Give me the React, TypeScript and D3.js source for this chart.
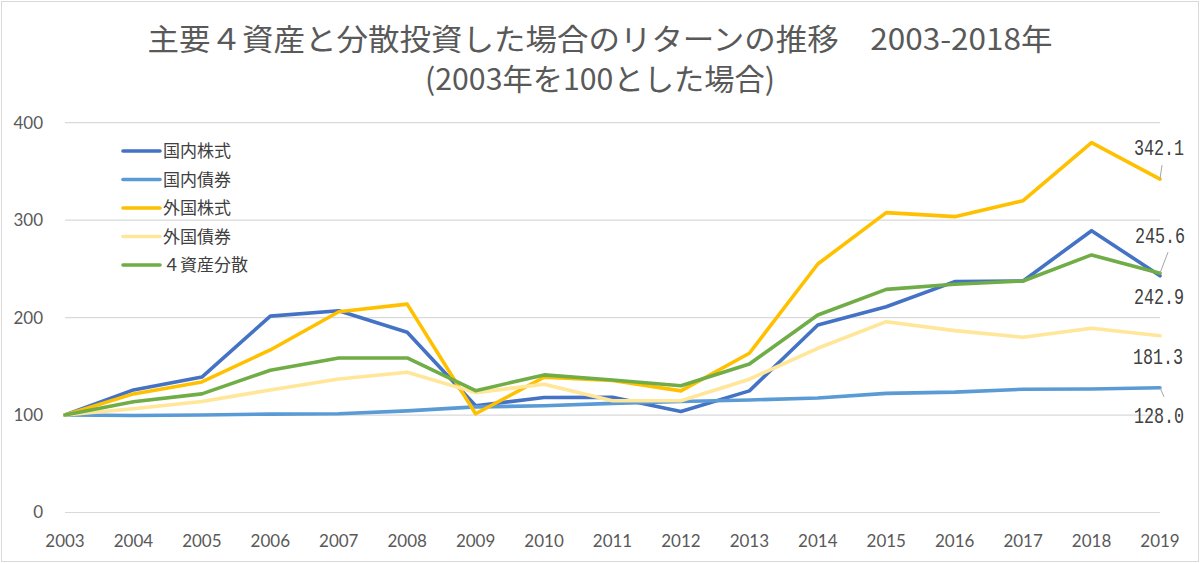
import React, { useEffect, useRef } from "react";
import * as d3 from "d3";

const years = [
  2003, 2004, 2005, 2006, 2007, 2008, 2009, 2010, 2011, 2012, 2013, 2014,
  2015, 2016, 2017, 2018, 2019,
];

const domesticStock = [
  100, 125.8, 139, 201.5, 207, 185, 109.5, 118, 118.3, 103.6, 124.8, 192.4,
  211.2, 236.9, 237.6, 289.2, 242.9,
];
const domesticBond = [
  100, 99.5, 100, 101, 101.3, 104.3, 108.4, 109.5, 112, 113.9, 115.5, 117.5,
  122.2, 123.5, 126.5, 126.7, 128.0,
];
const foreignStock = [
  100, 121.7, 134, 166.8, 206, 213.8, 101.3, 138.8, 135.4, 124.8, 163.4, 255,
  307.7, 303.6, 320, 379.6, 342.1,
];
const foreignBond = [
  100, 106.4, 113.9, 125.8, 137, 144, 123, 131.6, 114.6, 114.6, 136.8, 168.5,
  195.8, 186.6, 179.8, 189, 181.3,
];
const diversified = [
  100, 113.6, 121.7, 146, 158.6, 158.6, 125, 141.2, 136, 130, 152.4, 202.7,
  229, 234.2, 237.6, 264.3, 245.6,
];

const seriesNames = ["国内株式", "国内債券", "外国株式", "外国債券", "４資産分散"];
const seriesValues = [domesticStock, domesticBond, foreignStock, foreignBond, diversified];
const colors = ["#4472C4", "#5B9BD5", "#FFC000", "#FFE699", "#70AD47"];
const yTicks = [0, 100, 200, 300, 400];

const titleLine1 = "主要４資産と分散投資した場合のリターンの推移　2003-2018年";
const titleLine2 = "(2003年を100とした場合)";

// where the end label sits relative to the last point, and whether it has a leader line
const endLabels = [
  { dx: -1, dy: 28, leader: null },
  { dx: -1, dy: 35, leader: [4, 9] },
  { dx: -1, dy: -24, leader: [2, -14] },
  { dx: -2, dy: 28, leader: null },
  { dx: 0, dy: -30, leader: [8, -21] },
];

const W = 1200;
const H = 563;

const App = () => {
  const svgRef = useRef(null);

  useEffect(() => {
    const svg = d3.select(svgRef.current);
    svg.selectAll("*").remove();

    const x = d3.scaleLinear().domain([2003, 2019]).range([65, 1160]);
    const y = d3.scaleLinear().domain([0, 400]).range([512.5, 122.7]);

    svg
      .append("rect")
      .attr("x", 1.5)
      .attr("y", 1.5)
      .attr("width", W - 3)
      .attr("height", H - 3)
      .attr("fill", "#fff")
      .attr("stroke", "#D9D9D9");

    // title
    svg
      .append("text")
      .attr("x", 600)
      .attr("y", 50)
      .attr("text-anchor", "middle")
      .attr("font-family", "'Noto Sans CJK JP', sans-serif")
      .attr("font-size", 30)
      .attr("fill", "#595959")
      .attr("textLength", 905)
      .attr("lengthAdjust", "spacingAndGlyphs")
      .text(titleLine1);
    svg
      .append("text")
      .attr("x", 600)
      .attr("y", 90)
      .attr("text-anchor", "middle")
      .attr("font-family", "'Noto Sans CJK JP', sans-serif")
      .attr("font-size", 30)
      .attr("fill", "#595959")
      .attr("textLength", 350)
      .attr("lengthAdjust", "spacingAndGlyphs")
      .text(titleLine2);

    // grid + y labels
    const grid = svg.append("g");
    grid
      .selectAll("line")
      .data(yTicks)
      .enter()
      .append("line")
      .attr("x1", x(2003))
      .attr("x2", x(2019))
      .attr("y1", (d) => y(d))
      .attr("y2", (d) => y(d))
      .attr("stroke", "#D9D9D9")
      .attr("stroke-width", 1.2);
    grid
      .selectAll("text")
      .data(yTicks)
      .enter()
      .append("text")
      .attr("x", 43)
      .attr("y", (d) => y(d))
      .attr("dy", "0.35em")
      .attr("text-anchor", "end")
      .attr("font-family", "Lato, sans-serif")
      .attr("font-size", 17)
      .attr("fill", "#595959")
      .text((d) => d);

    // x labels
    svg
      .append("g")
      .selectAll("text")
      .data(years)
      .enter()
      .append("text")
      .attr("x", (d) => x(d))
      .attr("y", 547)
      .attr("text-anchor", "middle")
      .attr("font-family", "Lato, sans-serif")
      .attr("font-size", 17)
      .attr("fill", "#595959")
      .text((d) => d);

    const line = d3
      .line()
      .x((d, i) => x(years[i]))
      .y((d) => y(d));

    seriesValues.forEach((vals, i) => {
      svg
        .append("path")
        .datum(vals)
        .attr("fill", "none")
        .attr("stroke", colors[i])
        .attr("stroke-width", 3.6)
        .attr("stroke-linejoin", "round")
        .attr("stroke-linecap", "round")
        .attr("d", line);
    });

    // end labels: monospace digits squeezed horizontally like the original
    const fmt = d3.format(".1f");
    seriesValues.forEach((vals, i) => {
      const last = vals[vals.length - 1];
      const px = x(years[years.length - 1]);
      const py = y(last);
      const lab = endLabels[i];
      if (lab.leader) {
        svg
          .append("line")
          .attr("x1", px)
          .attr("y1", py)
          .attr("x2", px + lab.leader[0])
          .attr("y2", py + lab.leader[1])
          .attr("stroke", "#A6A6A6")
          .attr("stroke-width", 1);
      }
      svg
        .append("text")
        .attr("transform", `translate(${px + lab.dx}, ${py + lab.dy}) scale(0.76, 1)`)
        .attr("text-anchor", "middle")
        .attr("font-family", "'Liberation Mono', monospace")
        .attr("font-size", 22)
        .attr("fill", "#404040")
        .text(fmt(last));
    });

    // legend
    const legend = svg
      .selectAll(".legend")
      .data(seriesNames)
      .enter()
      .append("g")
      .attr("class", "legend")
      .attr("transform", (d, i) => `translate(123, ${151 + i * 28.5})`);
    legend
      .append("line")
      .attr("x1", 0)
      .attr("x2", 37)
      .attr("stroke", (d, i) => colors[i])
      .attr("stroke-width", 3.6)
      .attr("stroke-linecap", "round");
    legend
      .append("text")
      .attr("x", 40)
      .attr("dy", "0.36em")
      .attr("font-family", "'Noto Sans CJK JP', sans-serif")
      .attr("font-size", 17)
      .attr("fill", "#404040")
      .text((d) => d);
  }, []);

  return (
    <svg
      ref={svgRef}
      width={W}
      height={H}
      style={{ position: "absolute", left: 0, top: 0 }}
    />
  );
};

export default App;
